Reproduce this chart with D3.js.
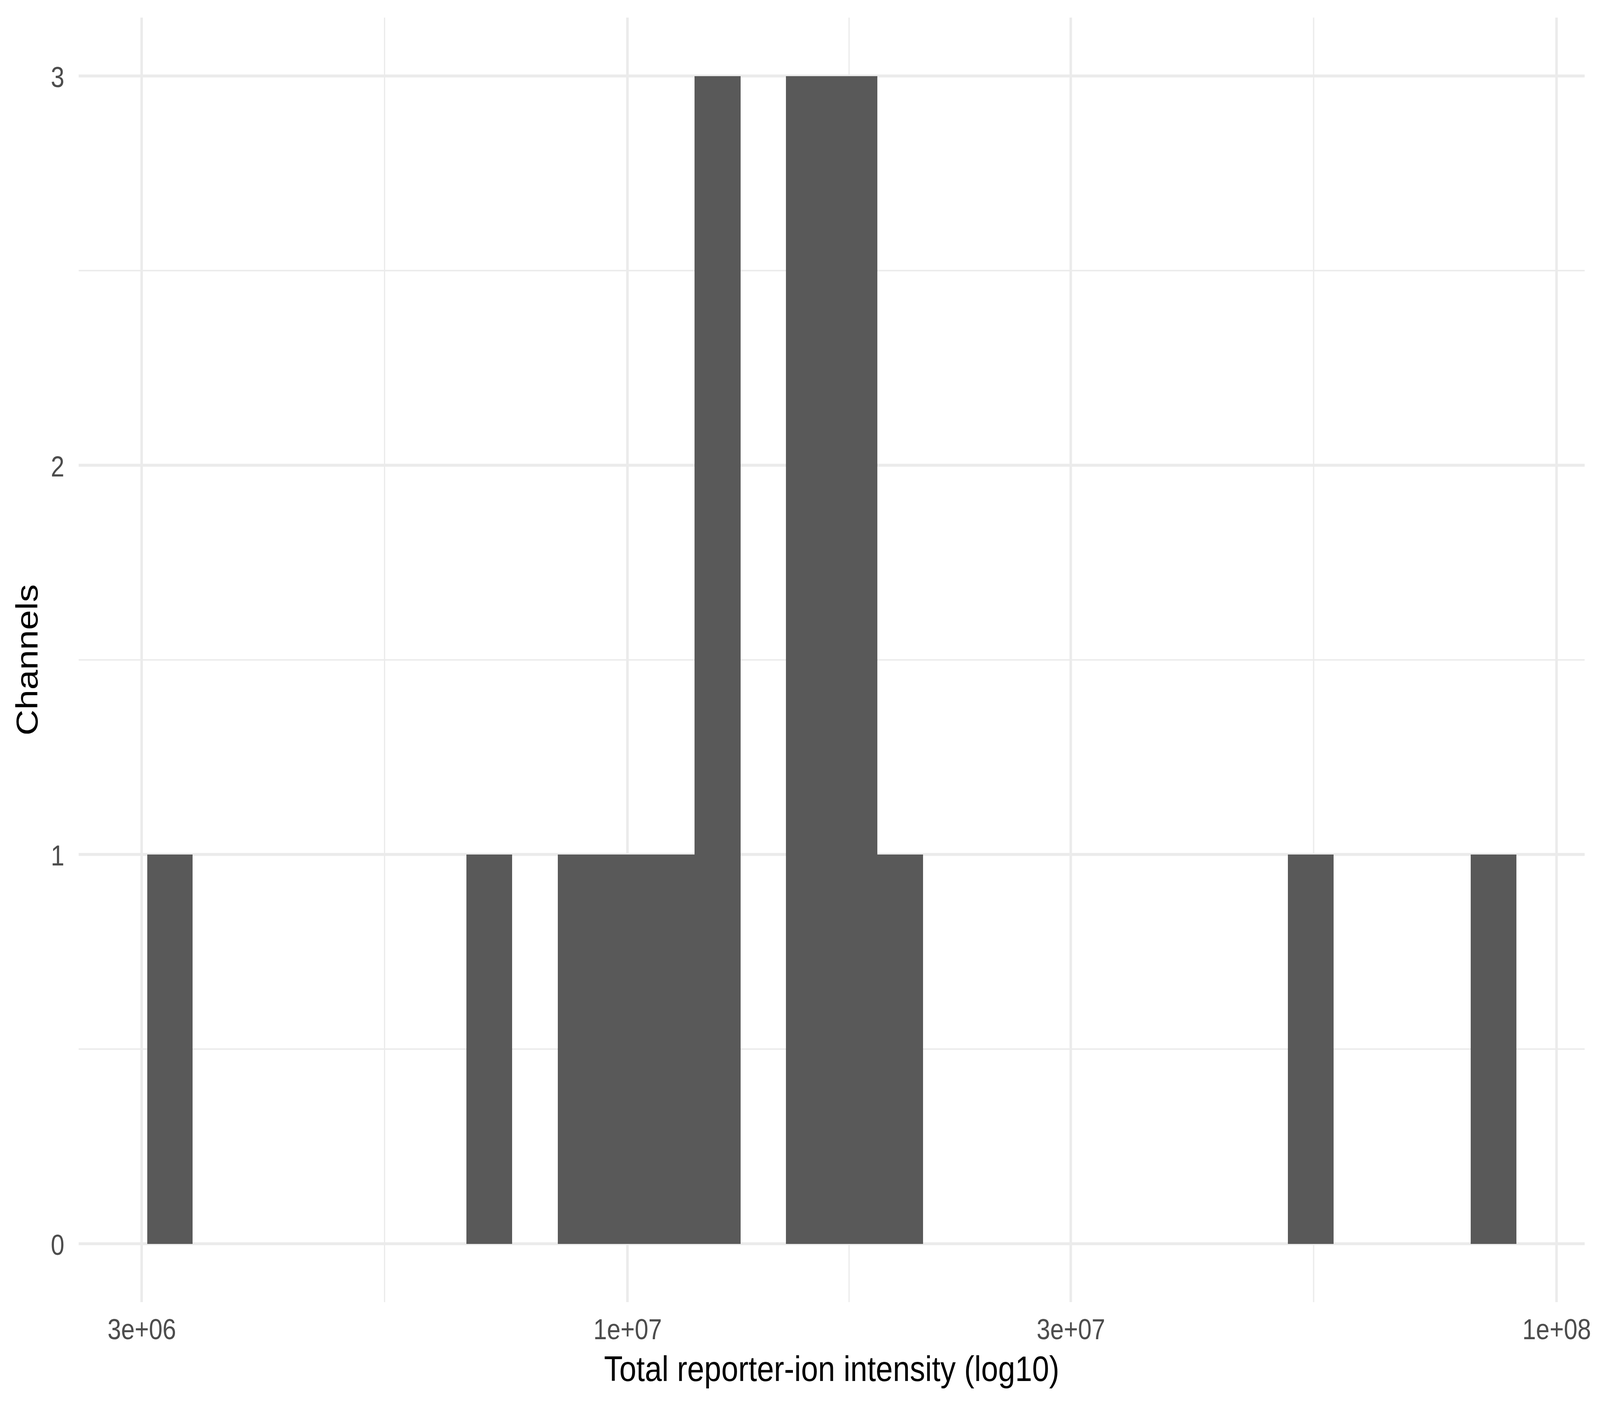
<!DOCTYPE html>
<html>
<head>
<meta charset="utf-8">
<script src="https://cdn.jsdelivr.net/npm/d3@7"></script>
<style>
  html, body { margin: 0; padding: 0; background: #ffffff; overflow: hidden; width: 100%; height: 100%; }
  svg { display: block; width: 100vw; height: 100vh; }
  text { font-family: "Liberation Sans", Arial, "DejaVu Sans", sans-serif; }
</style>
</head>
<body>
<svg id="chart" viewBox="0 0 4800 3600" preserveAspectRatio="none"></svg>
<script>
// ---- Data (log10 bin edges of intensity) ----
const binLowLog10  = [6.4830, 6.8268, 6.9251, 6.9742, 7.0233, 7.0724, 7.1707, 7.2198, 7.2689, 7.7110, 7.9075];
const binHighLog10 = [6.5321, 6.8759, 6.9742, 7.0233, 7.0724, 7.1216, 7.2198, 7.2689, 7.3180, 7.7601, 7.9566];
const binCounts    = [1, 1, 1, 1, 1, 3, 3, 3, 1, 1, 1];

const xTickValues  = [3e6, 1e7, 3e7, 1e8];
const xTickLabels  = ["3e+06", "1e+07", "3e+07", "1e+08"];
const xMinorValues = [5.477e6, 1.732e7, 5.477e7];
const yTickValues  = [0, 1, 2, 3];
const yTickLabels  = ["0", "1", "2", "3"];
const yMinorValues = [0.5, 1.5, 2.5];

const xTitle = "Total reporter-ion intensity (log10)";
const yTitle = "Channels";

// ---- Layout (in 4800x3600 chart units; the viewBox fits it to the window) ----
const W = 4800, H = 3600;
const panel = { left: 236, right: 4754, top: 45, bottom: 3334 };
const gridColor = "#EBEBEB";
const barColor = "#595959";
const tickColor = "#4D4D4D";
const tickFont = 73.3;
const titleFont = 91.7;

const bars = binLowLog10.map((lo, i) => ({
  x0: Math.pow(10, lo),
  x1: Math.pow(10, binHighLog10[i]),
  count: binCounts[i]
}));

// ggplot-style 5% expansion in transformed space
const loL = d3.min(binLowLog10), hiL = d3.max(binHighLog10);
const rL = hiL - loL;
const x = d3.scaleLog()
  .domain([Math.pow(10, loL - 0.05 * rL), Math.pow(10, hiL + 0.05 * rL)])
  .range([panel.left, panel.right]);

const yMax = d3.max(binCounts);
const y = d3.scaleLinear()
  .domain([0 - 0.05 * yMax, yMax + 0.05 * yMax])
  .range([panel.bottom, panel.top]);

const svg = d3.select("#chart");
svg.append("rect").attr("width", W).attr("height", H).attr("fill", "#ffffff");

// ---- Grid ----
const grid = svg.append("g").attr("class", "grid");
grid.selectAll("line.yminor").data(yMinorValues).join("line")
  .attr("class", "yminor")
  .attr("x1", panel.left).attr("x2", panel.right)
  .attr("y1", d => y(d)).attr("y2", d => y(d))
  .attr("stroke", gridColor).attr("stroke-width", 3.75);
grid.selectAll("line.xminor").data(xMinorValues).join("line")
  .attr("class", "xminor")
  .attr("y1", panel.top).attr("y2", panel.bottom)
  .attr("x1", d => x(d)).attr("x2", d => x(d))
  .attr("stroke", gridColor).attr("stroke-width", 3.75);
grid.selectAll("line.ymajor").data(yTickValues).join("line")
  .attr("class", "ymajor")
  .attr("x1", panel.left).attr("x2", panel.right)
  .attr("y1", d => y(d)).attr("y2", d => y(d))
  .attr("stroke", gridColor).attr("stroke-width", 7.5);
grid.selectAll("line.xmajor").data(xTickValues).join("line")
  .attr("class", "xmajor")
  .attr("y1", panel.top).attr("y2", panel.bottom)
  .attr("x1", d => x(d)).attr("x2", d => x(d))
  .attr("stroke", gridColor).attr("stroke-width", 7.5);

// ---- Bars ----
svg.append("g").attr("class", "bars")
  .selectAll("rect").data(bars).join("rect")
  .attr("x", d => x(d.x0))
  .attr("width", d => x(d.x1) - x(d.x0))
  .attr("y", d => y(d.count))
  .attr("height", d => y(0) - y(d.count))
  .attr("fill", barColor)
  .attr("shape-rendering", "crispEdges");

// ---- Axes ----
const xAxis = d3.axisBottom(x)
  .tickValues(xTickValues)
  .tickFormat((d, i) => xTickLabels[i])
  .tickSize(0)
  .tickPadding(43);
const gx = svg.append("g")
  .attr("transform", `translate(0,${panel.bottom})`)
  .call(xAxis);
gx.select(".domain").remove();
gx.selectAll("text")
  .attr("font-size", tickFont)
  .attr("font-family", "'Liberation Sans', Arial, sans-serif")
  .attr("fill", tickColor);

const yAxis = d3.axisLeft(y)
  .tickValues(yTickValues)
  .tickFormat((d, i) => yTickLabels[i])
  .tickSize(0)
  .tickPadding(43);
const gy = svg.append("g")
  .attr("transform", `translate(${panel.left},0)`)
  .call(yAxis);
gy.select(".domain").remove();
gy.selectAll("text")
  .attr("font-size", tickFont)
  .attr("font-family", "'Liberation Sans', Arial, sans-serif")
  .attr("fill", tickColor)
  .attr("dy", "0.38em");

// ---- Titles ----
svg.append("text")
  .attr("x", (panel.left + panel.right) / 2)
  .attr("y", 3536)
  .attr("text-anchor", "middle")
  .attr("font-size", titleFont)
  .attr("fill", "#000000")
  .text(xTitle);

svg.append("text")
  .attr("transform", `translate(113,${(panel.top + panel.bottom) / 2}) rotate(-90)`)
  .attr("text-anchor", "middle")
  .attr("font-size", titleFont)
  .attr("fill", "#000000")
  .text(yTitle);
</script>
</body>
</html>
